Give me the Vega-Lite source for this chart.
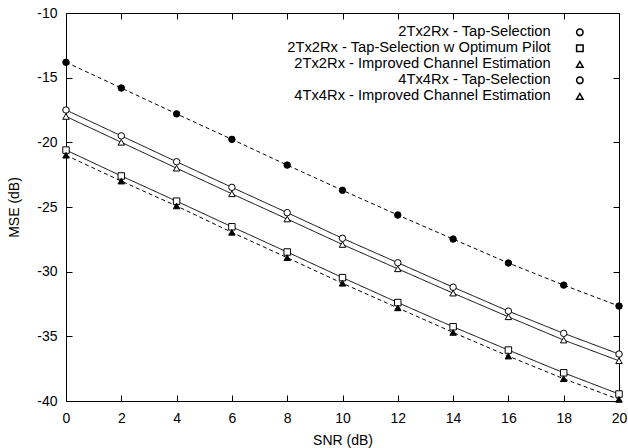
{
  "$schema": "https://vega.github.io/schema/vega-lite/v6.json",
  "width": 553,
  "height": 388,
  "autosize": {"type": "none"},
  "padding": {"left": 66, "top": 13, "right": 9, "bottom": 47},
  "background": "white",
  "config": {
    "font": "Liberation Sans",
    "view": {"stroke": "black", "strokeWidth": 1},
    "point": {"opacity": 1},
    "axis": {
      "domain": false,
      "grid": false,
      "tickColor": "black",
      "tickSize": -6,
      "tickWidth": 1,
      "labelFont": "Liberation Sans",
      "labelFontSize": 14,
      "labelColor": "black",
      "titleFont": "Liberation Sans",
      "titleFontSize": 14,
      "titleFontWeight": "normal",
      "titleColor": "black"
    }
  },
  "data": {
    "values": [
      {"snr": 0, "mse": -17.5, "series": "2Tx2Rx - Tap-Selection"},
      {"snr": 2, "mse": -19.5, "series": "2Tx2Rx - Tap-Selection"},
      {"snr": 4, "mse": -21.5, "series": "2Tx2Rx - Tap-Selection"},
      {"snr": 6, "mse": -23.48, "series": "2Tx2Rx - Tap-Selection"},
      {"snr": 8, "mse": -25.44, "series": "2Tx2Rx - Tap-Selection"},
      {"snr": 10, "mse": -27.42, "series": "2Tx2Rx - Tap-Selection"},
      {"snr": 12, "mse": -29.31, "series": "2Tx2Rx - Tap-Selection"},
      {"snr": 14, "mse": -31.2, "series": "2Tx2Rx - Tap-Selection"},
      {"snr": 16, "mse": -33.05, "series": "2Tx2Rx - Tap-Selection"},
      {"snr": 18, "mse": -34.77, "series": "2Tx2Rx - Tap-Selection"},
      {"snr": 20, "mse": -36.37, "series": "2Tx2Rx - Tap-Selection"},
      {"snr": 0, "mse": -20.6, "series": "2Tx2Rx - Tap-Selection w Optimum Pilot"},
      {"snr": 2, "mse": -22.6, "series": "2Tx2Rx - Tap-Selection w Optimum Pilot"},
      {"snr": 4, "mse": -24.55, "series": "2Tx2Rx - Tap-Selection w Optimum Pilot"},
      {"snr": 6, "mse": -26.53, "series": "2Tx2Rx - Tap-Selection w Optimum Pilot"},
      {"snr": 8, "mse": -28.48, "series": "2Tx2Rx - Tap-Selection w Optimum Pilot"},
      {"snr": 10, "mse": -30.46, "series": "2Tx2Rx - Tap-Selection w Optimum Pilot"},
      {"snr": 12, "mse": -32.39, "series": "2Tx2Rx - Tap-Selection w Optimum Pilot"},
      {"snr": 14, "mse": -34.26, "series": "2Tx2Rx - Tap-Selection w Optimum Pilot"},
      {"snr": 16, "mse": -36.06, "series": "2Tx2Rx - Tap-Selection w Optimum Pilot"},
      {"snr": 18, "mse": -37.82, "series": "2Tx2Rx - Tap-Selection w Optimum Pilot"},
      {"snr": 20, "mse": -39.46, "series": "2Tx2Rx - Tap-Selection w Optimum Pilot"},
      {"snr": 0, "mse": -18.0, "series": "2Tx2Rx - Improved Channel Estimation"},
      {"snr": 2, "mse": -20.0, "series": "2Tx2Rx - Improved Channel Estimation"},
      {"snr": 4, "mse": -22.0, "series": "2Tx2Rx - Improved Channel Estimation"},
      {"snr": 6, "mse": -23.98, "series": "2Tx2Rx - Improved Channel Estimation"},
      {"snr": 8, "mse": -25.93, "series": "2Tx2Rx - Improved Channel Estimation"},
      {"snr": 10, "mse": -27.9, "series": "2Tx2Rx - Improved Channel Estimation"},
      {"snr": 12, "mse": -29.78, "series": "2Tx2Rx - Improved Channel Estimation"},
      {"snr": 14, "mse": -31.66, "series": "2Tx2Rx - Improved Channel Estimation"},
      {"snr": 16, "mse": -33.49, "series": "2Tx2Rx - Improved Channel Estimation"},
      {"snr": 18, "mse": -35.29, "series": "2Tx2Rx - Improved Channel Estimation"},
      {"snr": 20, "mse": -36.89, "series": "2Tx2Rx - Improved Channel Estimation"},
      {"snr": 0, "mse": -13.81, "series": "4Tx4Rx - Tap-Selection"},
      {"snr": 2, "mse": -15.8, "series": "4Tx4Rx - Tap-Selection"},
      {"snr": 4, "mse": -17.8, "series": "4Tx4Rx - Tap-Selection"},
      {"snr": 6, "mse": -19.77, "series": "4Tx4Rx - Tap-Selection"},
      {"snr": 8, "mse": -21.76, "series": "4Tx4Rx - Tap-Selection"},
      {"snr": 10, "mse": -23.71, "series": "4Tx4Rx - Tap-Selection"},
      {"snr": 12, "mse": -25.62, "series": "4Tx4Rx - Tap-Selection"},
      {"snr": 14, "mse": -27.48, "series": "4Tx4Rx - Tap-Selection"},
      {"snr": 16, "mse": -29.33, "series": "4Tx4Rx - Tap-Selection"},
      {"snr": 18, "mse": -31.04, "series": "4Tx4Rx - Tap-Selection"},
      {"snr": 20, "mse": -32.66, "series": "4Tx4Rx - Tap-Selection"},
      {"snr": 0, "mse": -21.0, "series": "4Tx4Rx - Improved Channel Estimation"},
      {"snr": 2, "mse": -23.0, "series": "4Tx4Rx - Improved Channel Estimation"},
      {"snr": 4, "mse": -24.92, "series": "4Tx4Rx - Improved Channel Estimation"},
      {"snr": 6, "mse": -26.96, "series": "4Tx4Rx - Improved Channel Estimation"},
      {"snr": 8, "mse": -28.92, "series": "4Tx4Rx - Improved Channel Estimation"},
      {"snr": 10, "mse": -30.9, "series": "4Tx4Rx - Improved Channel Estimation"},
      {"snr": 12, "mse": -32.8, "series": "4Tx4Rx - Improved Channel Estimation"},
      {"snr": 14, "mse": -34.7, "series": "4Tx4Rx - Improved Channel Estimation"},
      {"snr": 16, "mse": -36.53, "series": "4Tx4Rx - Improved Channel Estimation"},
      {"snr": 18, "mse": -38.28, "series": "4Tx4Rx - Improved Channel Estimation"},
      {"snr": 20, "mse": -39.88, "series": "4Tx4Rx - Improved Channel Estimation"}
    ]
  },
  "layer": [
    {
      "mark": {"type": "line", "color": "black", "strokeWidth": 1},
      "encoding": {
        "x": {"field": "snr", "type": "quantitative", "scale": {"domain": [0, 20], "nice": false},
          "axis": {"orient": "bottom", "values": [0, 2, 4, 6, 8, 10, 12, 14, 16, 18, 20], "title": "SNR (dB)", "labelPadding": 16, "titlePadding": 8, "labelFlush": false}},
        "y": {"field": "mse", "type": "quantitative", "scale": {"domain": [-40, -10], "nice": false, "zero": false},
          "axis": {"orient": "left", "values": [-40, -35, -30, -25, -20, -15, -10], "title": "MSE (dB)", "labelExpr": "'' + datum.value", "labelPadding": 15, "titlePadding": 15, "labelFlush": false}},
        "detail": {"field": "series"},
        "strokeDash": {"condition": {"test": "indexof(datum.series, '4Tx4Rx') == 0", "value": [4, 3]}, "value": [1, 0]}
      }
    },
    {
      "mark": {"type": "point", "filled": true, "stroke": "black", "strokeWidth": 1, "size": 42},
      "encoding": {
        "x": {"field": "snr", "type": "quantitative",
          "axis": {"orient": "top", "values": [0, 2, 4, 6, 8, 10, 12, 14, 16, 18, 20], "labels": false, "title": null}},
        "y": {"field": "mse", "type": "quantitative",
          "axis": {"orient": "right", "values": [-40, -35, -30, -25, -20, -15, -10], "labels": false, "title": null}},
        "fill": {"condition": {"test": "indexof(datum.series, '4Tx4Rx') == 0", "value": "black"}, "value": "white"},
        "shape": {"field": "series", "type": "nominal",
          "scale": {"domain": ["2Tx2Rx - Tap-Selection", "2Tx2Rx - Tap-Selection w Optimum Pilot", "2Tx2Rx - Improved Channel Estimation", "4Tx4Rx - Tap-Selection", "4Tx4Rx - Improved Channel Estimation"],
            "range": ["circle", "square", "triangle-up", "circle", "triangle-up"]},
          "legend": {
            "title": null,
            "orient": "none",
            "legendX": 506.5,
            "legendY": 12,
            "padding": 0,
            "symbolSize": 42,
            "rowPadding": 0,
            "labelAlign": "right",
            "labelOffset": -36.5,
            "labelFont": "Liberation Sans",
            "labelFontSize": 14.7,
            "labelColor": "black",
            "labelLimit": 400
          }}
      }
    }
  ],
  "resolve": {"axis": {"x": "independent", "y": "independent"}}
}
